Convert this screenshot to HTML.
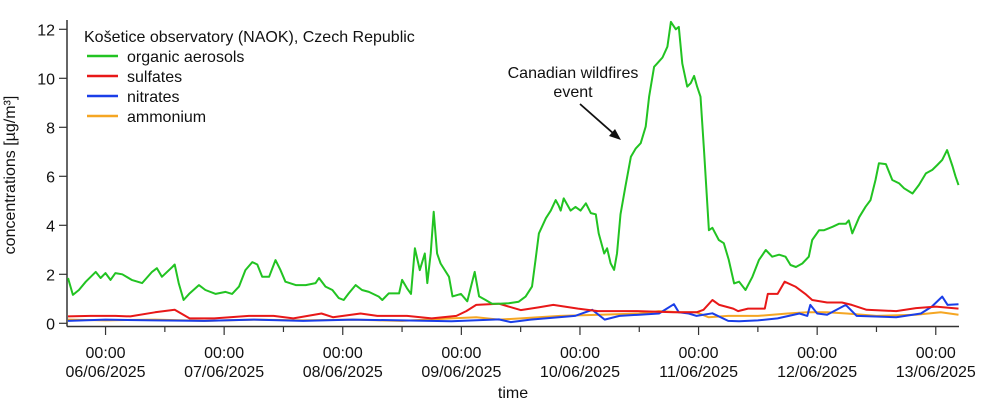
<!DOCTYPE html>
<html><head><meta charset="utf-8"><style>
body{margin:0;background:#fff;}
svg{display:block;font-family:"Liberation Sans",Arial,sans-serif;}
</style></head><body>
<svg id="chart" width="1000" height="403" viewBox="0 0 1000 403">
<g id="axes"></g>
<g id="series"></g>
<g>
<text x="84" y="42" font-size="16" fill="#111">Košetice observatory (NAOK), Czech Republic</text>
<line x1="87" y1="56" x2="118" y2="56" stroke="#22c322" stroke-width="2.5"/>
<text x="127" y="62" font-size="16" fill="#111">organic aerosols</text>
<line x1="87" y1="76" x2="118" y2="76" stroke="#e81818" stroke-width="2.5"/>
<text x="127" y="82" font-size="16" fill="#111">sulfates</text>
<line x1="87" y1="96" x2="118" y2="96" stroke="#1a3ee8" stroke-width="2.5"/>
<text x="127" y="102" font-size="16" fill="#111">nitrates</text>
<line x1="87" y1="116" x2="118" y2="116" stroke="#f5a623" stroke-width="2.5"/>
<text x="127" y="122" font-size="16" fill="#111">ammonium</text>
</g>
<g>
<text x="573" y="78" font-size="16" text-anchor="middle" fill="#111">Canadian wildfires</text>
<text x="573" y="97" font-size="16" text-anchor="middle" fill="#111">event</text>
<line x1="580" y1="104" x2="614" y2="134" stroke="#111" stroke-width="1.8"/>
<polygon points="621,140 609,136 615,129" fill="#111"/>
</g>
<text x="15" y="175" font-size="16" fill="#111" text-anchor="middle" transform="rotate(-90 15 175)">concentrations [µg/m³]</text>
<text x="513" y="398" font-size="16" fill="#111" text-anchor="middle">time</text>
</svg>
<script>
// hours since 06/06/2025 00:00
const orgT=[-7.6,-6.6,-5.4,-4.0,-2.0,-1.0,0,1.0,2.0,3.4,5.3,7.4,9.4,10.4,11.4,13.5,14.0,14.8,15.8,16.9,18.9,20.2,22.3,24.3,25.6,27.0,28.3,29.7,30.7,31.7,33.1,34.4,35.4,36.4,38.5,40.5,42.5,43.2,44.5,45.9,47.2,48.2,49.2,50.6,51.9,53.3,55.3,56.0,57.3,59.4,60.0,61.0,61.8,62.6,63.6,64.6,65.1,65.8,66.4,67.1,67.8,69.5,70.2,71.9,73.2,74.7,75.6,76.9,78.2,79.6,81.6,83.6,85.0,86.3,87.0,87.7,89.1,90.1,91.1,91.7,92.1,92.7,94.1,95.1,96.1,97.2,98.2,99.2,99.8,100.9,101.5,102.2,102.9,103.5,104.2,105.2,106.3,107.3,108.3,109.3,110.0,111.0,111.6,112.7,113.7,114.4,115.4,116.0,116.7,117.7,118.4,119.1,119.7,120.4,121.1,122.1,122.8,124.1,125.1,126.1,127.2,128.2,129.5,130.9,132.2,133.6,134.9,136.3,137.6,138.6,139.7,141.0,142.3,143.0,144.4,145.4,147.1,148.4,149.8,150.4,151.1,152.5,153.8,154.8,155.8,156.5,157.9,159.2,160.6,161.6,163.3,164.6,166.0,167.3,168.3,169.3,170.3,171.4,172.0,172.6];
const orgV=[1.85,1.16,1.36,1.7,2.1,1.85,2.05,1.77,2.05,2.0,1.77,1.64,2.1,2.25,1.9,2.3,2.4,1.64,0.95,1.2,1.56,1.36,1.2,1.28,1.2,1.5,2.17,2.5,2.4,1.9,1.9,2.58,2.17,1.7,1.56,1.56,1.64,1.85,1.5,1.36,1.03,0.95,1.22,1.56,1.36,1.28,1.09,0.95,1.22,1.22,1.77,1.43,1.2,3.06,2.17,2.85,1.64,2.85,4.55,2.85,2.44,1.9,1.1,1.2,0.9,2.1,1.1,0.95,0.8,0.8,0.82,0.88,1.09,1.5,2.58,3.67,4.29,4.6,5.03,4.8,4.6,5.1,4.6,4.75,4.6,4.9,4.5,4.45,3.67,2.85,3.06,2.45,2.18,2.85,4.45,5.58,6.8,7.14,7.35,8.03,9.25,10.47,10.6,10.85,11.29,12.3,12.0,12.1,10.6,9.66,9.8,10.1,9.66,9.25,7.07,3.8,3.9,3.4,3.27,2.6,1.63,1.7,1.36,1.9,2.58,2.99,2.72,2.8,2.72,2.38,2.3,2.44,2.72,3.4,3.8,3.8,3.94,4.06,4.06,4.2,3.67,4.33,4.76,5.03,5.85,6.53,6.5,5.85,5.71,5.51,5.3,5.65,6.12,6.26,6.46,6.67,7.07,6.4,6.0,5.64,5.78];
const sulT=[-7.6,-3,2,5,10,14,17,22,29,34,38,43.7,46,51.6,55,61,66,71,73,75,79.6,84,87.6,90.6,95.6,99.6,103,107.6,115,119.6,121,122.8,124.2,127,128,130,133.4,134,136,137.4,139.6,141.6,143,146,149,151,154,160,164,168,172.6];
const sulV=[0.28,0.3,0.3,0.28,0.45,0.55,0.2,0.2,0.3,0.3,0.2,0.4,0.25,0.4,0.3,0.3,0.2,0.3,0.5,0.75,0.8,0.54,0.65,0.75,0.6,0.5,0.5,0.5,0.45,0.45,0.55,0.95,0.75,0.6,0.5,0.6,0.6,1.2,1.2,1.7,1.5,1.2,0.95,0.85,0.85,0.75,0.55,0.5,0.62,0.68,0.6];
const nitT=[-7.6,0,10,20,30,40,50,60,70,79.6,82,86,95,98.5,101,104,108,112,115,116,118,119.6,122.8,126,128.2,132,136,140.4,142,142.6,144,146,149.8,152,160,165,167.2,169.3,170.4,172.6];
const nitV=[0.1,0.15,0.12,0.1,0.15,0.1,0.15,0.12,0.08,0.16,0.05,0.15,0.3,0.55,0.15,0.3,0.35,0.4,0.78,0.45,0.4,0.3,0.41,0.1,0.08,0.12,0.2,0.4,0.3,0.75,0.4,0.35,0.75,0.3,0.25,0.4,0.68,1.09,0.75,0.78];
const ammT=[-7.6,0,10,20,30,40,50,60,70,75,79.6,84,92,100,108,112,116,119.6,122,126,132,138,142,146,150,156,164,169,172.6];
const ammV=[0.15,0.12,0.15,0.1,0.15,0.12,0.15,0.1,0.2,0.25,0.15,0.2,0.3,0.35,0.4,0.5,0.45,0.45,0.25,0.3,0.3,0.4,0.45,0.45,0.4,0.3,0.35,0.45,0.35];
const yTicks=[0,2,4,6,8,10,12];
const dayLabels=["06/06/2025","07/06/2025","08/06/2025","09/06/2025","10/06/2025","11/06/2025","12/06/2025","13/06/2025"];

const NS="http://www.w3.org/2000/svg";
const X0=67,X1=959,T0=-7.8,T1=172.7;
const xs=t=>X0+(t-T0)/(T1-T0)*(X1-X0);
const ys=v=>323.3-v*24.5;
function mk(tag,attrs,parent){const e=document.createElementNS(NS,tag);for(const k in attrs)e.setAttribute(k,attrs[k]);parent.appendChild(e);return e;}
const axes=document.getElementById('axes'),series=document.getElementById('series');
let e=mk('line',{x1:X0,y1:20,x2:X0,y2:326.5,stroke:'#333','stroke-width':1.5},axes);


e=mk('line',{x1:X0,y1:326.5,x2:X1,y2:326.5,stroke:'#333','stroke-width':1.5},axes);


yTicks.forEach(v=>{
  const t=mk('line',{x1:X0-8,y1:ys(v),x2:X0,y2:ys(v),stroke:'#333','stroke-width':1.2},axes);
  
  
  const l=mk('text',{x:X0-12,y:ys(v)+6,'font-size':16,'text-anchor':'end',fill:'#111'},axes);
  l.textContent=v;
  
  
});
dayLabels.forEach((d,i)=>{
  const x=xs(i*24);
  const t=mk('line',{x1:x,y1:326.5,x2:x,y2:335,stroke:'#333','stroke-width':1.2},axes);
  
  
  const a=mk('text',{x:x,y:358,'font-size':16,'text-anchor':'middle',fill:'#111'},axes);
  a.textContent='00:00';
  
  
  const b=mk('text',{x:x,y:377,'font-size':16,'text-anchor':'middle',fill:'#111'},axes);
  b.textContent=d;
  
  
});
for(let h=-12;h<=T1;h+=24){ if(h<T0)continue;
  const x=xs(h);
  const t=mk('line',{x1:x,y1:326.5,x2:x,y2:332,stroke:'#333','stroke-width':1.2},axes);
  
  
}
function draw(T,V,color,name){
  const d=T.map((t,i)=>(i?'L':'M')+xs(t).toFixed(1)+','+ys(V[i]).toFixed(1)).join('');
  const p=mk('path',{d:d,fill:'none',stroke:color,'stroke-width':2,'stroke-linejoin':'round'},series);
  
  
}
draw(ammT,ammV,'#f5a623','ammonium-line');
draw(nitT,nitV,'#1a3ee8','nitrates-line');
draw(sulT,sulV,'#e81818','sulfates-line');
draw(orgT,orgV,'#22c322','organic-aerosols-line');
</script>
</body></html>
